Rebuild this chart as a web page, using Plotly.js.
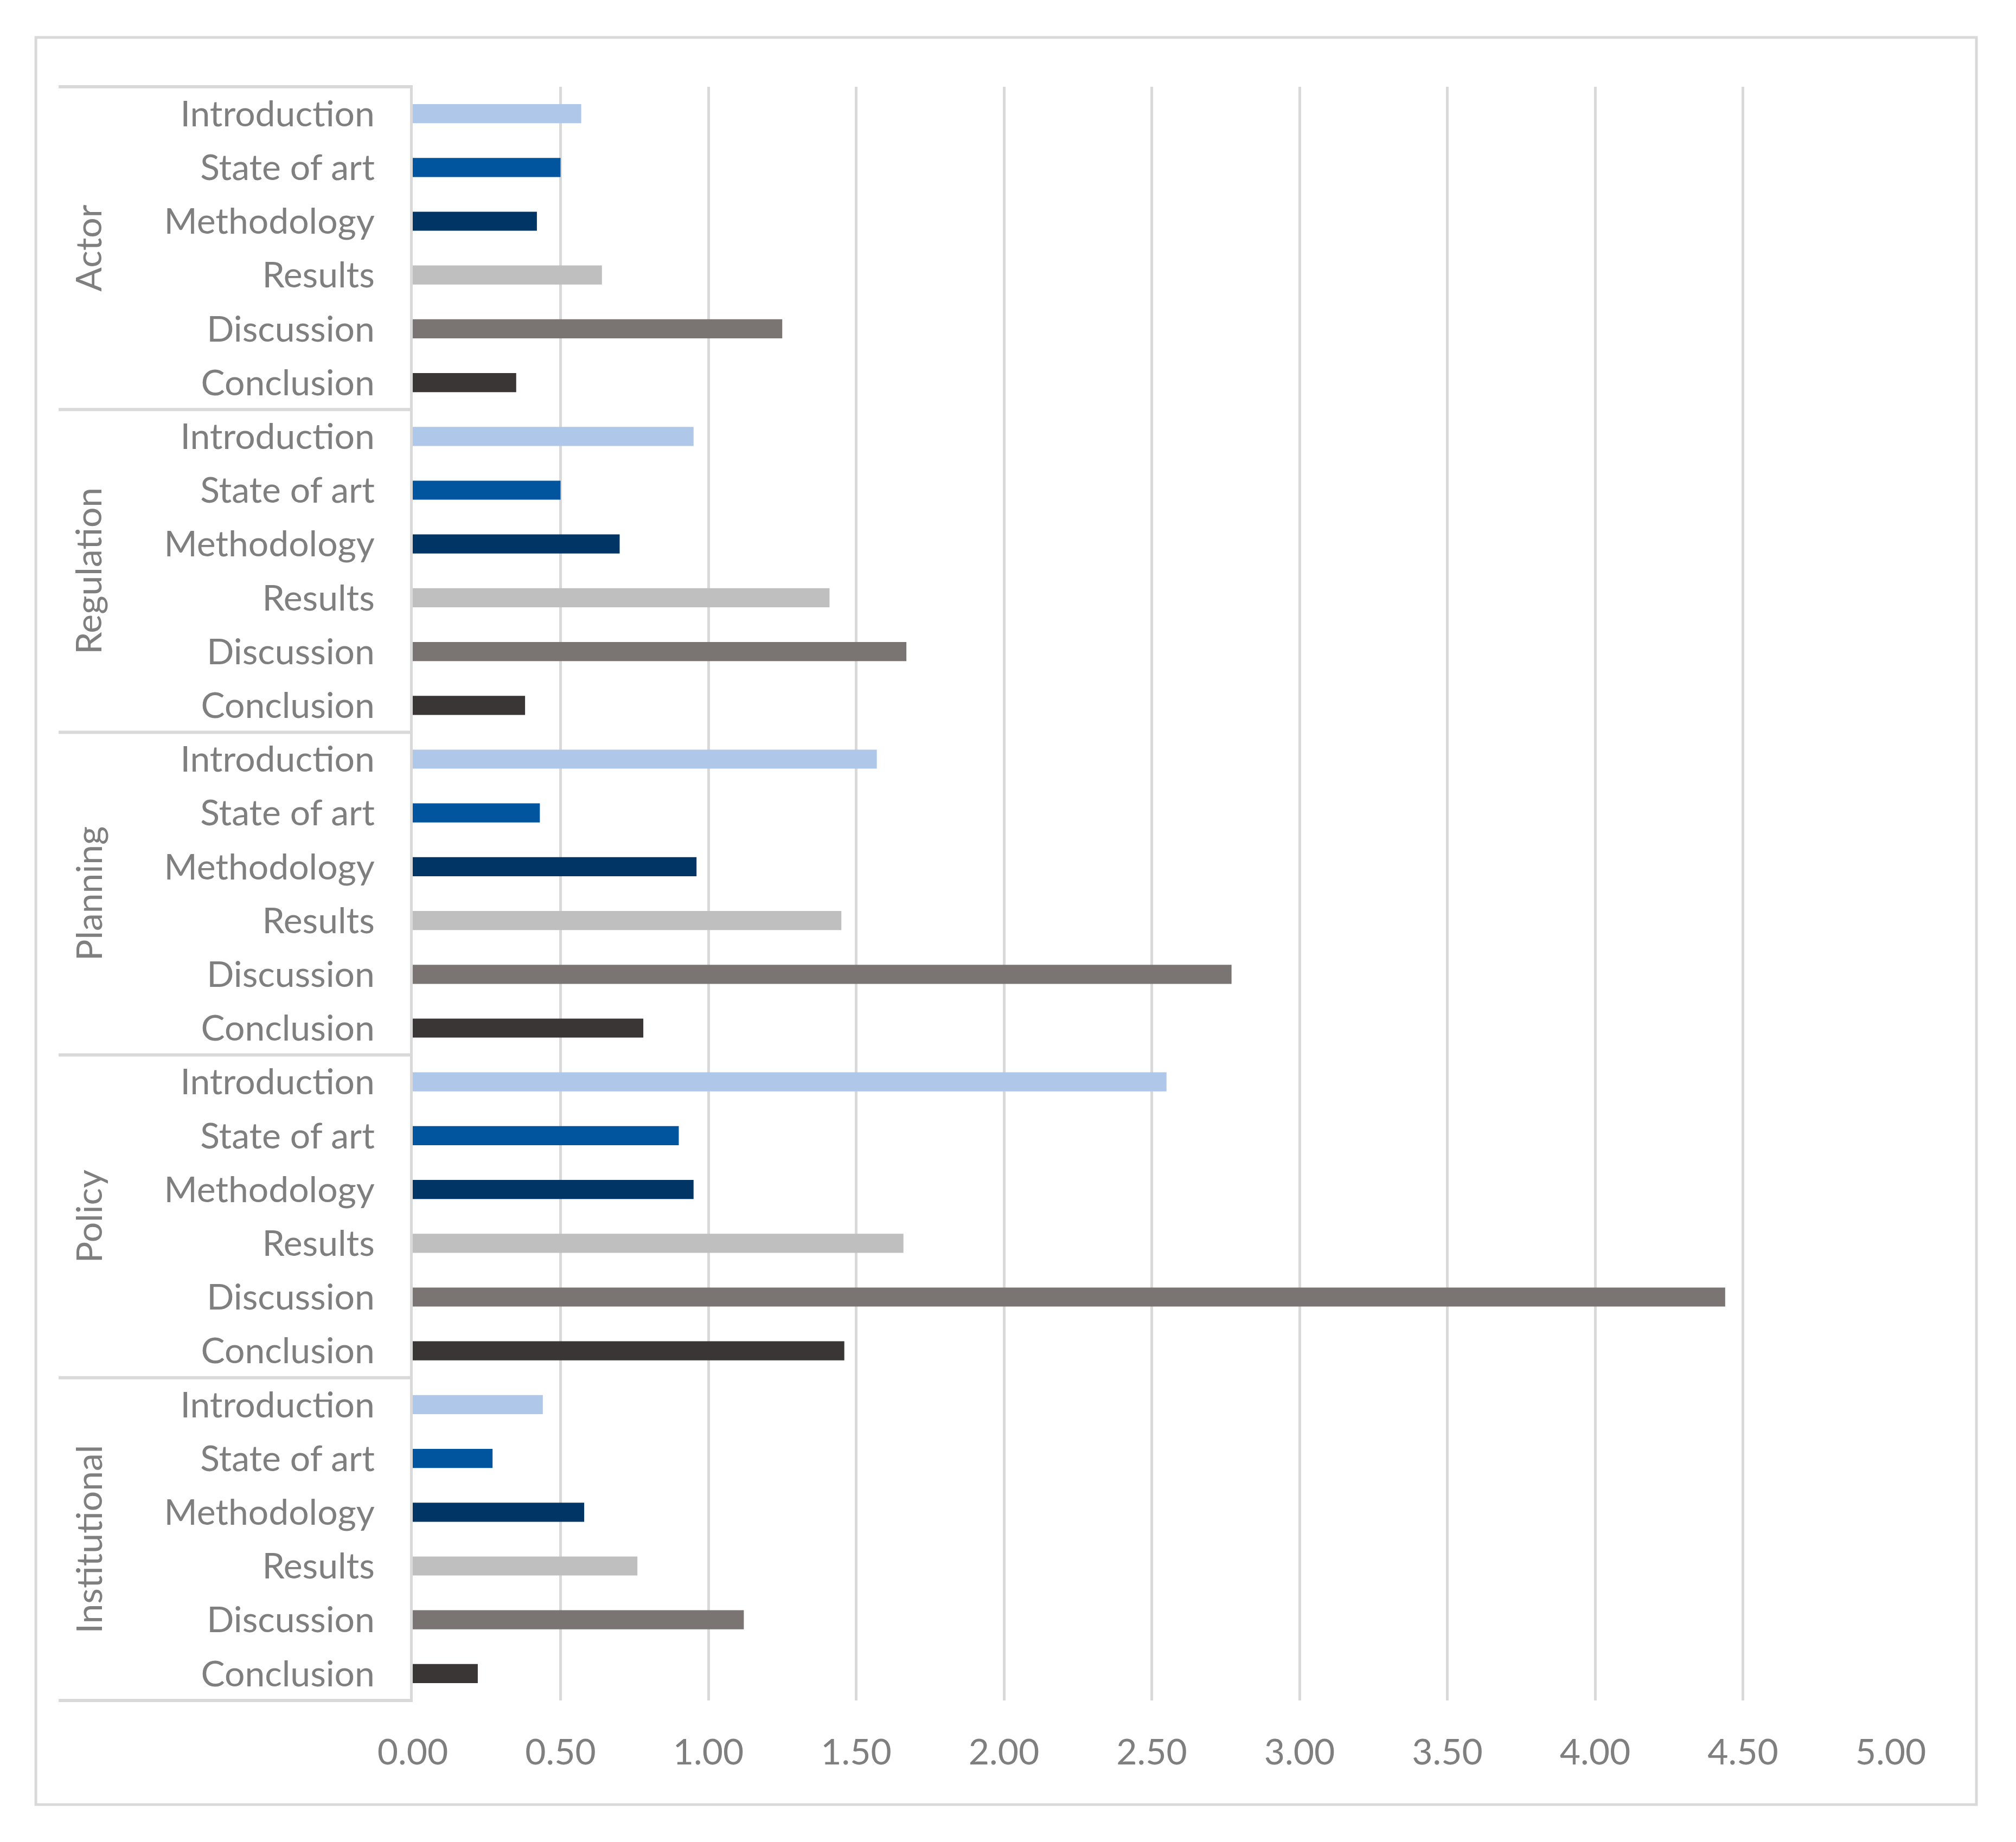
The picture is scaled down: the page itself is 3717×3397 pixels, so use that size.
<!DOCTYPE html>
<html>
<head>
<meta charset="utf-8">
<script src="https://cdn.plot.ly/plotly-3.0.1.min.js"></script>
<style>
  html, body { margin: 0; padding: 0; background: #fff; }
  #chart { width: 3717px; height: 3397px; }
</style>
</head>
<body>
<div id="chart"></div>
<script>
// groups from top to bottom, sections within each group
const groups = ['Actor', 'Regulation', 'Planning', 'Policy', 'Institutional'];
const sections = ['Introduction', 'State of art', 'Methodology', 'Results', 'Discussion', 'Conclusion'];

const actor = [0.57, 0.50, 0.42, 0.64, 1.25, 0.35];
const regulation = [0.95, 0.50, 0.70, 1.41, 1.67, 0.38];
const planning = [1.57, 0.43, 0.96, 1.45, 2.77, 0.78];
const policy = [2.55, 0.90, 0.95, 1.66, 4.44, 1.46];
const institutional = [0.44, 0.27, 0.58, 0.76, 1.12, 0.22];

const xTicks = [0, 0.5, 1, 1.5, 2, 2.5, 3, 3.5, 4, 4.5, 5];

const sectionColors = ['#AFC8E9', '#01559F', '#003566', '#BFBFBF', '#7A7473', '#3A3636'];
const grey = '#D9D9D9';
const textGrey = '#7F7F7F';

const groupValues = [actor, regulation, planning, policy, institutional];

// flatten into one bar trace, unique keys for the category axis
const keys = [], labels = [], values = [], colors = [];
groups.forEach((g, gi) => {
  sections.forEach((s, si) => {
    keys.push(g + ' | ' + s);
    labels.push(s);
    values.push(groupValues[gi][si]);
    colors.push(sectionColors[si]);
  });
});

const n = keys.length;
const per = sections.length;

// divider lines in the label column + group labels
const shapes = [];
const annotations = [];
for (let k = 0; k <= groups.length; k++) {
  const yp = 1 - (k * per) / n;
  shapes.push({
    type: 'line', xref: 'paper', yref: 'paper',
    x0: -0.2396, x1: 0, y0: yp, y1: yp,
    line: { color: grey, width: 6 }
  });
}
groups.forEach((g, gi) => {
  annotations.push({
    text: g, xref: 'paper', yref: 'paper',
    x: -0.2198, y: 1 - (gi * per + per / 2) / n,
    textangle: -90, showarrow: false,
    xanchor: 'center', yanchor: 'middle',
    font: { family: 'Lato, sans-serif', size: 66, color: textGrey }
  });
});

// outer chart border
shapes.push({
  type: 'rect', xref: 'paper', yref: 'paper',
  x0: -0.255, x1: 1.058, y0: -0.0645, y1: 1.0306,
  line: { color: grey, width: 5 }
});

const trace = {
  type: 'bar',
  orientation: 'h',
  y: keys,
  x: values,
  marker: { color: colors, line: { width: 0 } },
  hoverinfo: 'x+y'
};

const layout = {
  width: 3717,
  height: 3397,
  margin: { l: 761, r: 231, t: 160, b: 261 },
  paper_bgcolor: '#fff',
  plot_bgcolor: '#fff',
  showlegend: false,
  bargap: 0.645,
  font: { family: 'Lato, sans-serif', size: 66, color: textGrey },
  xaxis: {
    range: [0, 5],
    tickvals: xTicks,
    tickformat: '.2f',
    showgrid: true,
    gridcolor: grey,
    gridwidth: 5,
    zeroline: false,
    showline: false,
    ticks: 'outside',
    ticklen: 38,
    tickcolor: 'rgba(0,0,0,0)',
    tickfont: { family: 'Lato, sans-serif', size: 66, color: textGrey },
    fixedrange: true
  },
  yaxis: {
    type: 'category',
    categoryorder: 'array',
    categoryarray: keys,
    range: [n - 0.5, -0.5],
    tickmode: 'array',
    tickvals: keys,
    ticktext: labels,
    showgrid: false,
    zeroline: false,
    showline: true,
    linecolor: grey,
    linewidth: 5,
    ticks: 'outside',
    ticklen: 52,
    tickcolor: 'rgba(0,0,0,0)',
    tickfont: { family: 'Lato, sans-serif', size: 66, color: textGrey },
    fixedrange: true
  },
  shapes: shapes,
  annotations: annotations
};

Plotly.newPlot('chart', [trace], layout, { displayModeBar: false, staticPlot: true });
</script>
</body>
</html>
